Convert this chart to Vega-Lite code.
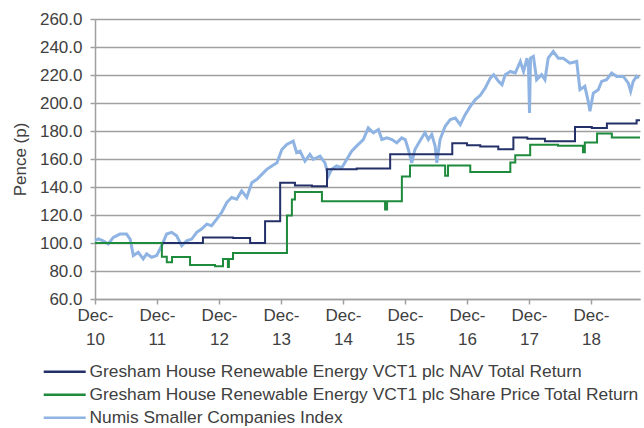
{
  "$schema": "https://vega.github.io/schema/vega-lite/v6.json",
  "width": 545,
  "height": 280,
  "autosize": {"type": "none"},
  "padding": {"left": 95, "top": 19, "right": 4, "bottom": 129},
  "background": "white",
  "config": {
    "font": "Liberation Sans",
    "view": {"stroke": null},
    "axis": {"labelColor": "#404040", "titleColor": "#404040", "labelFontSize": 17, "titleFontSize": 17, "titleFontWeight": "normal"},
    "legend": {"labelColor": "#404040", "labelFontSize": 17.4}
  },
  "datasets": {
    "numis": [
      {"date": "2010-12-31", "value": 101.8, "series": "Numis Smaller Companies Index"},
      {"date": "2011-01-20", "value": 103.0, "series": "Numis Smaller Companies Index"},
      {"date": "2011-02-17", "value": 101.6, "series": "Numis Smaller Companies Index"},
      {"date": "2011-03-19", "value": 99.3, "series": "Numis Smaller Companies Index"},
      {"date": "2011-04-18", "value": 104.0, "series": "Numis Smaller Companies Index"},
      {"date": "2011-05-27", "value": 106.4, "series": "Numis Smaller Companies Index"},
      {"date": "2011-07-05", "value": 106.4, "series": "Numis Smaller Companies Index"},
      {"date": "2011-07-26", "value": 102.8, "series": "Numis Smaller Companies Index"},
      {"date": "2011-08-14", "value": 91.0, "series": "Numis Smaller Companies Index"},
      {"date": "2011-09-12", "value": 93.3, "series": "Numis Smaller Companies Index"},
      {"date": "2011-10-11", "value": 88.6, "series": "Numis Smaller Companies Index"},
      {"date": "2011-10-31", "value": 92.2, "series": "Numis Smaller Companies Index"},
      {"date": "2011-11-30", "value": 89.8, "series": "Numis Smaller Companies Index"},
      {"date": "2011-12-29", "value": 91.0, "series": "Numis Smaller Companies Index"},
      {"date": "2012-01-28", "value": 98.1, "series": "Numis Smaller Companies Index"},
      {"date": "2012-02-26", "value": 106.4, "series": "Numis Smaller Companies Index"},
      {"date": "2012-03-27", "value": 107.6, "series": "Numis Smaller Companies Index"},
      {"date": "2012-04-25", "value": 105.2, "series": "Numis Smaller Companies Index"},
      {"date": "2012-05-25", "value": 98.1, "series": "Numis Smaller Companies Index"},
      {"date": "2012-06-23", "value": 101.6, "series": "Numis Smaller Companies Index"},
      {"date": "2012-07-23", "value": 102.8, "series": "Numis Smaller Companies Index"},
      {"date": "2012-08-21", "value": 107.6, "series": "Numis Smaller Companies Index"},
      {"date": "2012-09-19", "value": 110.0, "series": "Numis Smaller Companies Index"},
      {"date": "2012-10-19", "value": 113.5, "series": "Numis Smaller Companies Index"},
      {"date": "2012-11-17", "value": 112.3, "series": "Numis Smaller Companies Index"},
      {"date": "2012-12-17", "value": 117.0, "series": "Numis Smaller Companies Index"},
      {"date": "2013-01-15", "value": 121.8, "series": "Numis Smaller Companies Index"},
      {"date": "2013-02-14", "value": 128.9, "series": "Numis Smaller Companies Index"},
      {"date": "2013-03-15", "value": 132.5, "series": "Numis Smaller Companies Index"},
      {"date": "2013-04-14", "value": 131.3, "series": "Numis Smaller Companies Index"},
      {"date": "2013-05-13", "value": 137.2, "series": "Numis Smaller Companies Index"},
      {"date": "2013-06-12", "value": 132.5, "series": "Numis Smaller Companies Index"},
      {"date": "2013-07-12", "value": 143.1, "series": "Numis Smaller Companies Index"},
      {"date": "2013-08-11", "value": 145.5, "series": "Numis Smaller Companies Index"},
      {"date": "2013-09-09", "value": 149.0, "series": "Numis Smaller Companies Index"},
      {"date": "2013-10-08", "value": 152.6, "series": "Numis Smaller Companies Index"},
      {"date": "2013-11-07", "value": 155.0, "series": "Numis Smaller Companies Index"},
      {"date": "2013-12-07", "value": 157.3, "series": "Numis Smaller Companies Index"},
      {"date": "2014-01-05", "value": 166.8, "series": "Numis Smaller Companies Index"},
      {"date": "2014-02-03", "value": 170.4, "series": "Numis Smaller Companies Index"},
      {"date": "2014-03-13", "value": 172.8, "series": "Numis Smaller Companies Index"},
      {"date": "2014-04-02", "value": 164.5, "series": "Numis Smaller Companies Index"},
      {"date": "2014-04-22", "value": 165.6, "series": "Numis Smaller Companies Index"},
      {"date": "2014-05-21", "value": 158.5, "series": "Numis Smaller Companies Index"},
      {"date": "2014-06-19", "value": 163.3, "series": "Numis Smaller Companies Index"},
      {"date": "2014-07-09", "value": 159.7, "series": "Numis Smaller Companies Index"},
      {"date": "2014-08-18", "value": 162.1, "series": "Numis Smaller Companies Index"},
      {"date": "2014-09-16", "value": 157.3, "series": "Numis Smaller Companies Index"},
      {"date": "2014-10-06", "value": 147.9, "series": "Numis Smaller Companies Index"},
      {"date": "2014-10-25", "value": 152.6, "series": "Numis Smaller Companies Index"},
      {"date": "2014-11-23", "value": 155.0, "series": "Numis Smaller Companies Index"},
      {"date": "2014-12-24", "value": 153.8, "series": "Numis Smaller Companies Index"},
      {"date": "2015-01-22", "value": 159.7, "series": "Numis Smaller Companies Index"},
      {"date": "2015-02-20", "value": 165.6, "series": "Numis Smaller Companies Index"},
      {"date": "2015-03-21", "value": 169.2, "series": "Numis Smaller Companies Index"},
      {"date": "2015-04-30", "value": 173.9, "series": "Numis Smaller Companies Index"},
      {"date": "2015-05-29", "value": 182.2, "series": "Numis Smaller Companies Index"},
      {"date": "2015-06-28", "value": 178.7, "series": "Numis Smaller Companies Index"},
      {"date": "2015-07-28", "value": 181.1, "series": "Numis Smaller Companies Index"},
      {"date": "2015-08-17", "value": 173.9, "series": "Numis Smaller Companies Index"},
      {"date": "2015-09-16", "value": 175.1, "series": "Numis Smaller Companies Index"},
      {"date": "2015-10-15", "value": 173.9, "series": "Numis Smaller Companies Index"},
      {"date": "2015-11-13", "value": 171.6, "series": "Numis Smaller Companies Index"},
      {"date": "2015-12-12", "value": 175.1, "series": "Numis Smaller Companies Index"},
      {"date": "2016-01-02", "value": 173.9, "series": "Numis Smaller Companies Index"},
      {"date": "2016-01-20", "value": 166.8, "series": "Numis Smaller Companies Index"},
      {"date": "2016-02-09", "value": 157.3, "series": "Numis Smaller Companies Index"},
      {"date": "2016-02-28", "value": 166.8, "series": "Numis Smaller Companies Index"},
      {"date": "2016-03-28", "value": 172.8, "series": "Numis Smaller Companies Index"},
      {"date": "2016-04-27", "value": 178.7, "series": "Numis Smaller Companies Index"},
      {"date": "2016-05-17", "value": 173.9, "series": "Numis Smaller Companies Index"},
      {"date": "2016-06-06", "value": 177.5, "series": "Numis Smaller Companies Index"},
      {"date": "2016-06-26", "value": 169.2, "series": "Numis Smaller Companies Index"},
      {"date": "2016-07-06", "value": 157.3, "series": "Numis Smaller Companies Index"},
      {"date": "2016-07-25", "value": 173.9, "series": "Numis Smaller Companies Index"},
      {"date": "2016-08-24", "value": 183.4, "series": "Numis Smaller Companies Index"},
      {"date": "2016-09-23", "value": 188.2, "series": "Numis Smaller Companies Index"},
      {"date": "2016-10-23", "value": 189.3, "series": "Numis Smaller Companies Index"},
      {"date": "2016-11-21", "value": 184.6, "series": "Numis Smaller Companies Index"},
      {"date": "2016-12-20", "value": 191.7, "series": "Numis Smaller Companies Index"},
      {"date": "2017-01-19", "value": 197.6, "series": "Numis Smaller Companies Index"},
      {"date": "2017-02-18", "value": 202.4, "series": "Numis Smaller Companies Index"},
      {"date": "2017-03-19", "value": 205.5, "series": "Numis Smaller Companies Index"},
      {"date": "2017-04-17", "value": 210.7, "series": "Numis Smaller Companies Index"},
      {"date": "2017-05-17", "value": 217.8, "series": "Numis Smaller Companies Index"},
      {"date": "2017-06-06", "value": 220.2, "series": "Numis Smaller Companies Index"},
      {"date": "2017-07-05", "value": 215.4, "series": "Numis Smaller Companies Index"},
      {"date": "2017-07-25", "value": 213.1, "series": "Numis Smaller Companies Index"},
      {"date": "2017-08-13", "value": 220.2, "series": "Numis Smaller Companies Index"},
      {"date": "2017-09-12", "value": 222.5, "series": "Numis Smaller Companies Index"},
      {"date": "2017-10-11", "value": 221.4, "series": "Numis Smaller Companies Index"},
      {"date": "2017-11-10", "value": 229.7, "series": "Numis Smaller Companies Index"},
      {"date": "2017-11-29", "value": 222.5, "series": "Numis Smaller Companies Index"},
      {"date": "2017-12-19", "value": 232.0, "series": "Numis Smaller Companies Index"},
      {"date": "2017-12-28", "value": 226.1, "series": "Numis Smaller Companies Index"},
      {"date": "2018-01-03", "value": 192.9, "series": "Numis Smaller Companies Index"},
      {"date": "2018-01-09", "value": 232.0, "series": "Numis Smaller Companies Index"},
      {"date": "2018-01-26", "value": 233.2, "series": "Numis Smaller Companies Index"},
      {"date": "2018-02-14", "value": 216.6, "series": "Numis Smaller Companies Index"},
      {"date": "2018-03-15", "value": 220.2, "series": "Numis Smaller Companies Index"},
      {"date": "2018-04-04", "value": 216.6, "series": "Numis Smaller Companies Index"},
      {"date": "2018-04-23", "value": 232.0, "series": "Numis Smaller Companies Index"},
      {"date": "2018-05-23", "value": 236.8, "series": "Numis Smaller Companies Index"},
      {"date": "2018-06-22", "value": 232.0, "series": "Numis Smaller Companies Index"},
      {"date": "2018-07-21", "value": 232.0, "series": "Numis Smaller Companies Index"},
      {"date": "2018-08-29", "value": 228.5, "series": "Numis Smaller Companies Index"},
      {"date": "2018-10-08", "value": 229.7, "series": "Numis Smaller Companies Index"},
      {"date": "2018-10-27", "value": 209.5, "series": "Numis Smaller Companies Index"},
      {"date": "2018-11-25", "value": 211.9, "series": "Numis Smaller Companies Index"},
      {"date": "2018-12-15", "value": 201.2, "series": "Numis Smaller Companies Index"},
      {"date": "2018-12-25", "value": 194.1, "series": "Numis Smaller Companies Index"},
      {"date": "2019-01-14", "value": 207.1, "series": "Numis Smaller Companies Index"},
      {"date": "2019-02-12", "value": 209.5, "series": "Numis Smaller Companies Index"},
      {"date": "2019-03-04", "value": 215.4, "series": "Numis Smaller Companies Index"},
      {"date": "2019-04-02", "value": 216.6, "series": "Numis Smaller Companies Index"},
      {"date": "2019-05-02", "value": 221.4, "series": "Numis Smaller Companies Index"},
      {"date": "2019-06-01", "value": 219.0, "series": "Numis Smaller Companies Index"},
      {"date": "2019-07-10", "value": 219.0, "series": "Numis Smaller Companies Index"},
      {"date": "2019-08-08", "value": 214.2, "series": "Numis Smaller Companies Index"},
      {"date": "2019-08-22", "value": 208.3, "series": "Numis Smaller Companies Index"},
      {"date": "2019-09-06", "value": 215.4, "series": "Numis Smaller Companies Index"},
      {"date": "2019-09-26", "value": 219.0, "series": "Numis Smaller Companies Index"},
      {"date": "2019-10-10", "value": 217.8, "series": "Numis Smaller Companies Index"}
    ],
    "steps": [
      {"date": "2010-12-31", "value": 100.0, "series": "Gresham House Renewable Energy VCT1 plc NAV Total Return"},
      {"date": "2012-09-27", "value": 104.0, "series": "Gresham House Renewable Energy VCT1 plc NAV Total Return"},
      {"date": "2013-03-23", "value": 103.5, "series": "Gresham House Renewable Energy VCT1 plc NAV Total Return"},
      {"date": "2013-07-02", "value": 100.0, "series": "Gresham House Renewable Energy VCT1 plc NAV Total Return"},
      {"date": "2013-09-28", "value": 115.5, "series": "Gresham House Renewable Energy VCT1 plc NAV Total Return"},
      {"date": "2013-12-26", "value": 143.0, "series": "Gresham House Renewable Energy VCT1 plc NAV Total Return"},
      {"date": "2014-03-23", "value": 141.0, "series": "Gresham House Renewable Energy VCT1 plc NAV Total Return"},
      {"date": "2014-07-01", "value": 140.5, "series": "Gresham House Renewable Energy VCT1 plc NAV Total Return"},
      {"date": "2014-09-28", "value": 152.6, "series": "Gresham House Renewable Energy VCT1 plc NAV Total Return"},
      {"date": "2015-03-22", "value": 153.2, "series": "Gresham House Renewable Energy VCT1 plc NAV Total Return"},
      {"date": "2015-10-05", "value": 163.4, "series": "Gresham House Renewable Energy VCT1 plc NAV Total Return"},
      {"date": "2016-10-05", "value": 171.2, "series": "Gresham House Renewable Energy VCT1 plc NAV Total Return"},
      {"date": "2016-12-31", "value": 169.9, "series": "Gresham House Renewable Energy VCT1 plc NAV Total Return"},
      {"date": "2017-03-19", "value": 169.0, "series": "Gresham House Renewable Energy VCT1 plc NAV Total Return"},
      {"date": "2017-07-03", "value": 166.9, "series": "Gresham House Renewable Energy VCT1 plc NAV Total Return"},
      {"date": "2017-09-30", "value": 175.4, "series": "Gresham House Renewable Energy VCT1 plc NAV Total Return"},
      {"date": "2017-12-21", "value": 174.5, "series": "Gresham House Renewable Energy VCT1 plc NAV Total Return"},
      {"date": "2018-04-04", "value": 172.6, "series": "Gresham House Renewable Energy VCT1 plc NAV Total Return"},
      {"date": "2018-09-28", "value": 182.9, "series": "Gresham House Renewable Energy VCT1 plc NAV Total Return"},
      {"date": "2019-01-05", "value": 182.2, "series": "Gresham House Renewable Energy VCT1 plc NAV Total Return"},
      {"date": "2019-04-04", "value": 185.3, "series": "Gresham House Renewable Energy VCT1 plc NAV Total Return"},
      {"date": "2019-09-26", "value": 187.7, "series": "Gresham House Renewable Energy VCT1 plc NAV Total Return"},
      {"date": "2019-10-16", "value": 187.7, "series": "Gresham House Renewable Energy VCT1 plc NAV Total Return"},
      {"date": "2010-12-31", "value": 100.0, "series": "Gresham House Renewable Energy VCT1 plc Share Price Total Return"},
      {"date": "2012-01-29", "value": 90.2, "series": "Gresham House Renewable Energy VCT1 plc Share Price Total Return"},
      {"date": "2012-02-27", "value": 86.2, "series": "Gresham House Renewable Energy VCT1 plc Share Price Total Return"},
      {"date": "2012-03-29", "value": 90.0, "series": "Gresham House Renewable Energy VCT1 plc Share Price Total Return"},
      {"date": "2012-07-13", "value": 84.3, "series": "Gresham House Renewable Energy VCT1 plc Share Price Total Return"},
      {"date": "2012-12-07", "value": 83.4, "series": "Gresham House Renewable Energy VCT1 plc Share Price Total Return"},
      {"date": "2013-01-23", "value": 88.6, "series": "Gresham House Renewable Energy VCT1 plc Share Price Total Return"},
      {"date": "2013-02-21", "value": 82.8, "series": "Gresham House Renewable Energy VCT1 plc Share Price Total Return"},
      {"date": "2013-02-27", "value": 88.6, "series": "Gresham House Renewable Energy VCT1 plc Share Price Total Return"},
      {"date": "2013-03-23", "value": 92.9, "series": "Gresham House Renewable Energy VCT1 plc Share Price Total Return"},
      {"date": "2014-02-04", "value": 119.6, "series": "Gresham House Renewable Energy VCT1 plc Share Price Total Return"},
      {"date": "2014-03-05", "value": 131.1, "series": "Gresham House Renewable Energy VCT1 plc Share Price Total Return"},
      {"date": "2014-03-23", "value": 136.4, "series": "Gresham House Renewable Energy VCT1 plc Share Price Total Return"},
      {"date": "2014-08-29", "value": 129.9, "series": "Gresham House Renewable Energy VCT1 plc Share Price Total Return"},
      {"date": "2015-09-05", "value": 124.0, "series": "Gresham House Renewable Energy VCT1 plc Share Price Total Return"},
      {"date": "2015-09-17", "value": 129.9, "series": "Gresham House Renewable Energy VCT1 plc Share Price Total Return"},
      {"date": "2015-12-13", "value": 147.5, "series": "Gresham House Renewable Energy VCT1 plc Share Price Total Return"},
      {"date": "2016-01-30", "value": 155.3, "series": "Gresham House Renewable Energy VCT1 plc Share Price Total Return"},
      {"date": "2016-08-24", "value": 148.1, "series": "Gresham House Renewable Energy VCT1 plc Share Price Total Return"},
      {"date": "2016-09-10", "value": 155.3, "series": "Gresham House Renewable Energy VCT1 plc Share Price Total Return"},
      {"date": "2017-01-19", "value": 150.7, "series": "Gresham House Renewable Energy VCT1 plc Share Price Total Return"},
      {"date": "2017-09-12", "value": 157.5, "series": "Gresham House Renewable Energy VCT1 plc Share Price Total Return"},
      {"date": "2017-10-11", "value": 162.6, "series": "Gresham House Renewable Energy VCT1 plc Share Price Total Return"},
      {"date": "2018-01-07", "value": 170.2, "series": "Gresham House Renewable Energy VCT1 plc Share Price Total Return"},
      {"date": "2018-06-20", "value": 169.5, "series": "Gresham House Renewable Energy VCT1 plc Share Price Total Return"},
      {"date": "2018-11-14", "value": 164.8, "series": "Gresham House Renewable Energy VCT1 plc Share Price Total Return"},
      {"date": "2018-11-25", "value": 171.7, "series": "Gresham House Renewable Energy VCT1 plc Share Price Total Return"},
      {"date": "2019-02-05", "value": 178.3, "series": "Gresham House Renewable Energy VCT1 plc Share Price Total Return"},
      {"date": "2019-05-03", "value": 175.4, "series": "Gresham House Renewable Energy VCT1 plc Share Price Total Return"},
      {"date": "2019-10-16", "value": 175.4, "series": "Gresham House Renewable Energy VCT1 plc Share Price Total Return"}
    ]
  },
  "encoding": {
    "x": {
      "field": "date",
      "type": "temporal",
      "scale": {"type": "utc", "domain": [{"year": 2010, "month": 12, "date": 31, "utc": true}, {"year": 2019, "month": 10, "date": 16, "utc": true}]},
      "axis": {
        "title": null,
        "grid": false,
        "domainColor": "#a0a0a0",
        "domainWidth": 1.5,
        "tickColor": "#a0a0a0",
        "tickWidth": 1.5,
        "tickSize": 5,
        "labelPadding": 3,
        "labelDx": 3.5,
        "labelLineHeight": 24,
        "labelAlign": "center",
        "labelBaseline": "top",
        "labelFlush": false,
        "labelOverlap": false,
        "values": [
          {"year": 2010, "month": 12, "date": 31, "utc": true},
          {"year": 2011, "month": 12, "date": 31, "utc": true},
          {"year": 2012, "month": 12, "date": 31, "utc": true},
          {"year": 2013, "month": 12, "date": 31, "utc": true},
          {"year": 2014, "month": 12, "date": 31, "utc": true},
          {"year": 2015, "month": 12, "date": 31, "utc": true},
          {"year": 2016, "month": 12, "date": 31, "utc": true},
          {"year": 2017, "month": 12, "date": 31, "utc": true},
          {"year": 2018, "month": 12, "date": 31, "utc": true}
        ],
        "labelExpr": "['Dec-', utcFormat(datum.value, '%y')]"
      }
    },
    "y": {
      "field": "value",
      "type": "quantitative",
      "scale": {"domain": [60, 260], "nice": false, "zero": false},
      "axis": {
        "title": "Pence (p)",
        "titlePadding": 10,
        "values": [60, 80, 100, 120, 140, 160, 180, 200, 220, 240, 260],
        "format": ".1f",
        "grid": true,
        "gridColor": "#a0a0a0",
        "gridWidth": 1.5,
        "domainColor": "#a0a0a0",
        "domainWidth": 1.5,
        "tickColor": "#a0a0a0",
        "tickWidth": 1.5,
        "tickSize": 5,
        "labelPadding": 8,
        "labelBaseline": "middle"
      }
    },
    "color": {
      "field": "series",
      "type": "nominal",
      "scale": {
        "domain": ["Gresham House Renewable Energy VCT1 plc NAV Total Return", "Gresham House Renewable Energy VCT1 plc Share Price Total Return", "Numis Smaller Companies Index"],
        "range": ["#243068", "#1e8a3c", "#8fb4e3"]
      },
      "legend": {
        "title": null,
        "orient": "none",
        "legendX": -39,
        "legendY": 344,
        "direction": "vertical",
        "symbolType": "M-21,0H21",
        "symbolSize": 4,
        "symbolStrokeWidth": 2.5,
        "labelOffset": 16,
        "labelLimit": 640,
        "rowPadding": 4
      }
    }
  },
  "layer": [
    {
      "data": {"name": "numis"},
      "mark": {"type": "line", "strokeWidth": 3, "interpolate": "linear"}
    },
    {
      "data": {"name": "steps"},
      "mark": {"type": "line", "strokeWidth": 2, "interpolate": "step-after"}
    }
  ]
}
